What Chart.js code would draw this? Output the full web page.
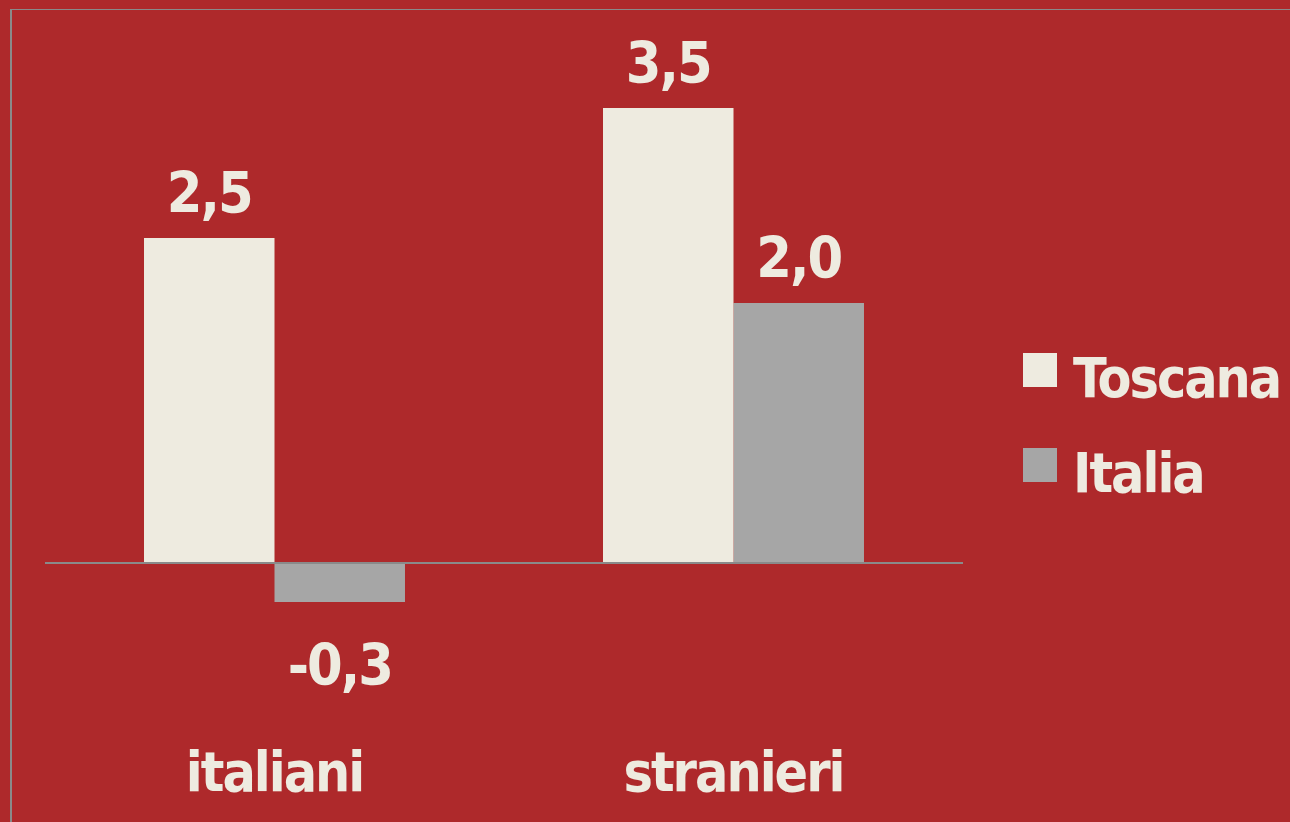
<!DOCTYPE html>
<html>
<head>
<meta charset="utf-8">
<script src="https://cdn.jsdelivr.net/npm/chart.js@4"></script>
<style>
  html, body { margin: 0; padding: 0; background: #AE292B; width: 1290px; height: 822px; overflow: hidden; }
  #wrap { position: absolute; left: 0; top: 0; width: 1290px; height: 861px; }
  #frame { position: absolute; left: 10px; top: 9px; right: 0; bottom: 0; border-top: 1px solid #8a8a8a; border-left: 2px solid #8a8a8a; pointer-events: none; }
</style>
</head>
<body>
<div id="wrap"><canvas id="c" width="1290" height="861"></canvas></div>
<div id="frame"></div>
<script>
const categories = ['italiani', 'stranieri'];
const seriesNames = ['Toscana', 'Italia'];
const toscana = [2.5, 3.5];
const italia = [-0.3, 2.0];
const seriesColors = ['#EEEBE0', '#A6A6A6'];

const FONT = "'DejaVu Sans Condensed', 'Liberation Sans Narrow', sans-serif";
const TEXT = '#EEEBE0';
const SPACING = '-2px';

const fmt = v => v.toFixed(1).replace('.', ',');

const tightText = {
  id: 'tightText',
  beforeLayout(chart) { chart.ctx.letterSpacing = SPACING; },
  beforeDraw(chart) { chart.ctx.letterSpacing = SPACING; }
};

const valueLabels = {
  id: 'valueLabels',
  afterDatasetsDraw(chart) {
    const ctx = chart.ctx;
    ctx.save();
    ctx.letterSpacing = SPACING;
    ctx.font = 'bold 57px ' + FONT;
    ctx.fillStyle = TEXT;
    ctx.textAlign = 'center';
    ctx.textBaseline = 'alphabetic';
    chart.data.datasets.forEach((ds, di) => {
      chart.getDatasetMeta(di).data.forEach((bar, i) => {
        const v = ds.data[i];
        const y = v >= 0 ? bar.y - 25 : bar.y + 83;
        ctx.fillText(fmt(v), bar.x, y);
      });
    });
    ctx.restore();
  }
};

const customLegend = {
  id: 'customLegend',
  afterDraw(chart) {
    const ctx = chart.ctx;
    ctx.save();
    ctx.letterSpacing = SPACING;
    ctx.font = 'bold 55px ' + FONT;
    ctx.textAlign = 'left';
    ctx.textBaseline = 'alphabetic';
    chart.data.datasets.forEach((ds, i) => {
      const top = 353 + i * 95;
      ctx.fillStyle = ds.backgroundColor;
      ctx.fillRect(1023, top, 34, 34);
      ctx.fillStyle = TEXT;
      ctx.fillText(ds.label, 1073, top + 44);
    });
    ctx.restore();
  }
};

new Chart(document.getElementById('c'), {
  type: 'bar',
  data: {
    labels: categories,
    datasets: [
      { label: seriesNames[0], data: toscana, backgroundColor: seriesColors[0] },
      { label: seriesNames[1], data: italia, backgroundColor: seriesColors[1] }
    ]
  },
  options: {
    responsive: false,
    animation: false,
    devicePixelRatio: 1,
    layout: { padding: { top: 43, left: 45, right: 327, bottom: 0 } },
    datasets: { bar: { categoryPercentage: 0.5686, barPercentage: 1 } },
    plugins: { legend: { display: false }, tooltip: { enabled: false } },
    scales: {
      x: {
        grid: { display: false, drawTicks: false },
        border: { display: false },
        ticks: { color: TEXT, font: { family: FONT, size: 55, weight: 'bold', lineHeight: 1.2 }, padding: 51, maxRotation: 0 }
      },
      y: {
        min: -1, max: 4,
        ticks: { display: false, stepSize: 1 },
        border: { display: false },
        grid: {
          drawTicks: false,
          lineWidth: 2,
          color: c => (c.tick && c.tick.value === 0) ? '#8a8a8a' : 'rgba(0,0,0,0)'
        }
      }
    }
  },
  plugins: [tightText, valueLabels, customLegend]
});
</script>
</body>
</html>
